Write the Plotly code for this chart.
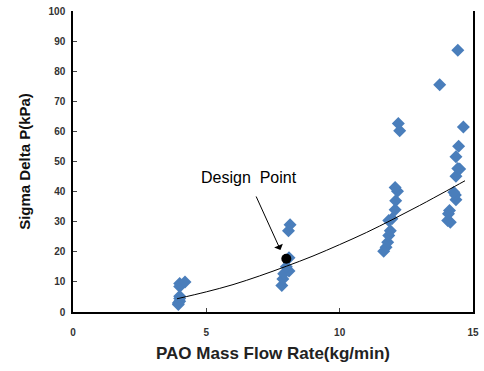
import plotly.graph_objects as go

flow_x = [4.0, 4.0, 4.0, 4.0, 4.0, 3.95, 3.95, 4.2,
          7.83, 7.87, 7.9, 8.1, 8.0, 8.1, 8.08, 8.14,
          11.65, 11.74, 11.8, 11.84, 11.9, 11.84, 11.96, 12.08, 12.1, 12.17, 12.08, 12.25, 12.2,
          14.15, 14.05, 14.08, 14.12, 14.36, 14.34, 14.28, 14.36, 14.43, 14.5, 14.36, 14.46, 14.64, 13.75, 14.43]
dp_y = [9.5, 8.5, 5.2, 4.5, 3.6, 3.0, 2.5, 10.0,
        8.8, 11.0, 12.7, 13.6, 15.0, 18.0, 27.0, 29.0,
        20.2, 21.5, 23.2, 25.4, 27.0, 30.4, 31.0, 34.0, 37.0, 40.1, 41.4, 60.2, 62.6,
        29.8, 30.4, 32.6, 33.7, 37.3, 38.9, 39.8, 45.1, 47.7, 47.5, 51.6, 55.1, 61.5, 75.5, 87.0]

# design point
design_x = [8.0]
design_y = [17.7]

# trend line
trend_x = [3.9, 5, 6, 7, 8, 9, 10, 11, 12, 13, 14, 14.7]
trend_y = [4.4, 6.7, 9.1, 12.0, 15.2, 18.6, 22.4, 26.4, 30.8, 35.4, 40.2, 43.6]

x_ticks = [0, 5, 10, 15]
y_ticks = [0, 10, 20, 30, 40, 50, 60, 70, 80, 90, 100]

FONT = "Liberation Sans, Arial"

fig = go.Figure()
fig.add_trace(go.Scatter(x=flow_x, y=dp_y, mode="markers",
                         marker=dict(symbol="diamond", size=10, color="#4A7EBB"),
                         showlegend=False))
fig.add_trace(go.Scatter(x=trend_x, y=trend_y, mode="lines",
                         line=dict(color="black", width=1, shape="spline"),
                         showlegend=False))
fig.add_trace(go.Scatter(x=design_x, y=design_y, mode="markers",
                         marker=dict(symbol="circle", size=10, color="black"),
                         showlegend=False))

fig.add_annotation(x=7.78, y=20.6, xref="x", yref="y", text="",
                   showarrow=True, arrowhead=1, arrowsize=1.6, arrowwidth=1,
                   arrowcolor="black", ax=-25, ay=-55, axref="pixel", ayref="pixel")
fig.add_annotation(x=6.6, y=44.6, xref="x", yref="y", text="Design  Point",
                   showarrow=False, font=dict(family=FONT, size=16, color="black"))

fig.update_layout(
    width=484, height=371,
    margin=dict(l=73, r=5, t=11, b=59),
    plot_bgcolor="white", paper_bgcolor="white",
    xaxis=dict(range=[0, 15], tickvals=x_ticks, ticks="inside", ticklen=4,
               ticklabelstandoff=10,
               showgrid=False, zeroline=False, showline=True, linecolor="black", linewidth=1.5,
               tickfont=dict(family=FONT, size=10, color="#333", weight="bold"),
               title=dict(text="PAO Mass Flow Rate(kg/min)", standoff=10,
                          font=dict(family=FONT, size=17, color="#222", weight="bold"))),
    yaxis=dict(range=[0, 100], tickvals=y_ticks, ticks="inside", ticklen=4,
               ticklabelstandoff=4,
               showgrid=False, zeroline=False, showline=True, mirror=True, linecolor="black", linewidth=1.5,
               tickfont=dict(family=FONT, size=10, color="#333", weight="bold"),
               title=dict(text="Sigma Delta P(kPa)", standoff=14,
                          font=dict(family=FONT, size=15, color="#111", weight="bold"))),
)
fig.write_html("out.html")
